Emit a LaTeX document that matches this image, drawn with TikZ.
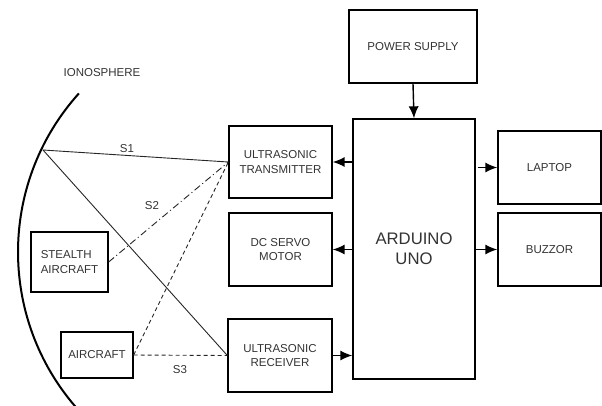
\documentclass[tikz,border=0pt]{standalone}
\usepackage{fontspec}
\setmainfont{Liberation Sans}
\usetikzlibrary{arrows.meta}
\begin{document}
\begin{tikzpicture}[x=1pt,y=-1pt,
  box/.style={draw=black, line width=1.3pt, inner sep=0pt, align=center, text=black!80,
    font=\fontsize{11.5}{14.5}\selectfont},
  lbl/.style={text=black!80, font=\fontsize{11.5}{14.5}\selectfont, inner sep=0pt},
  arr/.style={line width=1.4pt, -{Latex[length=12pt,width=10pt]}},
  sig/.style={line width=0.9pt, black!85},
  dsh/.style={sig, dash pattern=on 4pt off 3pt},
  dshdot/.style={sig, dash pattern=on 7pt off 3pt on 1pt off 3pt}]
\useasboundingbox (0,0) rectangle (602,405);
% blocks
\node[box, minimum width=128pt, minimum height=73pt] (ps) at (413,46.5) {POWER SUPPLY};
\node[box, minimum width=122pt, minimum height=260pt,
      font=\fontsize{16.7}{20}\selectfont] (ard) at (414,249) {ARDUINO\\UNO};
\node[box, minimum width=103pt, minimum height=73pt] (lap) at (549.5,167.5) {LAPTOP};
\node[box, minimum width=103pt, minimum height=73pt] (buz) at (549.5,249.5) {BUZZOR};
\node[box, minimum width=103pt, minimum height=72pt] (tx) at (280.5,162) {ULTRASONIC\\TRANSMITTER};
\node[box, minimum width=103pt, minimum height=73pt] (dc) at (280.5,249.5) {DC SERVO\\MOTOR};
\node[box, minimum width=104pt, minimum height=73pt] (rx) at (280,355.5) {ULTRASONIC\\RECEIVER};
\node[box, minimum width=77pt, minimum height=60pt, align=left] (st) at (69.5,262) {STEALTH\\AIRCRAFT};
\node[box, minimum width=72pt, minimum height=46pt] (ac) at (97,355) {AIRCRAFT};
% arrows
\draw[arr] (ps.south) -- (ard.north);
\draw[arr] ([xshift=2pt]ard.east |- lap.west) -- (lap.west);
\draw[arr] (ard.east |- buz.west) -- (buz.west);
\draw[arr] (ard.west |- tx.east) -- (tx.east);
\draw[arr] (ard.west |- dc.east) -- (dc.east);
\draw[arr] (rx.east) -- (ard.west |- rx.east);
% ionosphere
\draw[line width=2pt] (255,252) ++(136.9:237) arc[start angle=136.9, end angle=222, radius=237];
\node[lbl] (ion) at (102,73) {IONOSPHERE};
\coordinate (refl) at (43,150);
% signals
\draw[sig] (refl) -- (tx.west);
\draw[sig] (refl) -- (rx.west);
\draw[dshdot] (st.east) -- (tx.west);
\draw[dsh] (ac.east) -- (tx.west);
\draw[dsh] (ac.east) -- (rx.west);
\node[lbl] (s1) at (127,149) {S1};
\node[lbl] (s2) at (152,206) {S2};
\node[lbl] (s3) at (180,370) {S3};
\end{tikzpicture}
\end{document}
